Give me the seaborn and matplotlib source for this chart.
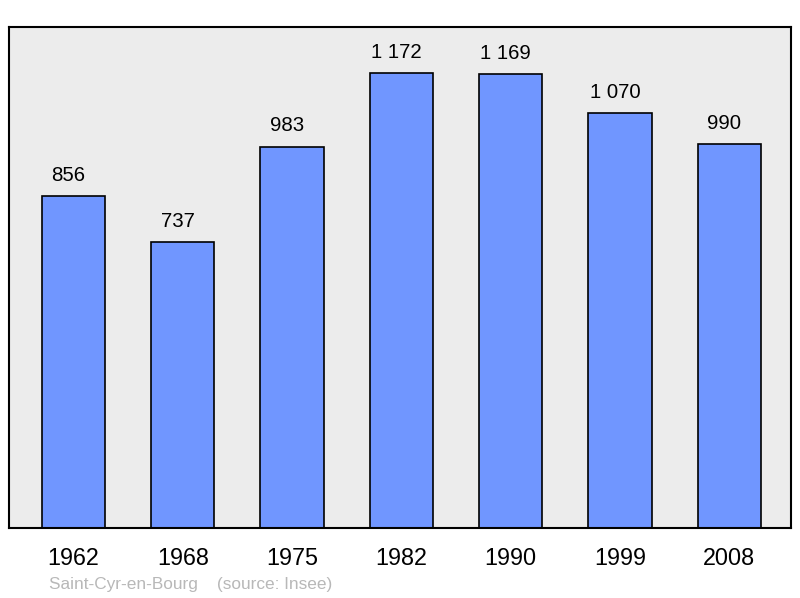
import matplotlib
matplotlib.use('Agg')
import pandas as pd
import seaborn as sns
from matplotlib import pyplot as plt

years = ['1962', '1968', '1975', '1982', '1990', '1999', '2008']
population = [856, 737, 983, 1172, 1169, 1070, 990]
value_labels = ['856', '737', '983', '1 172', '1 169', '1 070', '990']

bar_color = '#7096ff'
bg_color = '#ececec'


def main():
    df = pd.DataFrame({'Year': years, 'Population': population})

    sns.set_style('white')
    plt.rcParams['font.family'] = ['Liberation Sans', 'DejaVu Sans']

    fig = plt.figure(figsize=(8, 5.98), dpi=100)
    ax = fig.add_axes([9 / 800, 70 / 598, 782 / 800, 501 / 598])
    ax.set_facecolor(bg_color)

    sns.barplot(data=df, x='Year', y='Population', color=bar_color,
                width=0.58, edgecolor='black', linewidth=1.2, saturation=1,
                ax=ax, zorder=2)

    # value labels above bars (slightly left of centre, like the original)
    for i, (v, lab) in enumerate(zip(population, value_labels)):
        ax.annotate(lab, (i, v), xytext=(-3.5, 8), textcoords='offset points',
                    ha='center', va='bottom', fontsize=14.7, color='black')

    ax.set_xlim(-0.59, 6.565)
    ax.set_ylim(0, 1291)
    ax.set_yticks([])
    ax.set_xlabel('')
    ax.set_ylabel('')
    ax.tick_params(axis='x', length=0, labelsize=16.8, pad=13.5, labelcolor='black')
    for s in ax.spines.values():
        s.set_visible(True)
        s.set_color('black')
        s.set_linewidth(1.5)

    fig.text(49 / 800, 1 - 584 / 598, 'Saint-Cyr-en-Bourg    (source: Insee)',
             fontsize=12.4, color='#b8b8b8', ha='left', va='center')

    fig.savefig('out.png', dpi=100)
    plt.close(fig)


if __name__ == '__main__':
    main()
